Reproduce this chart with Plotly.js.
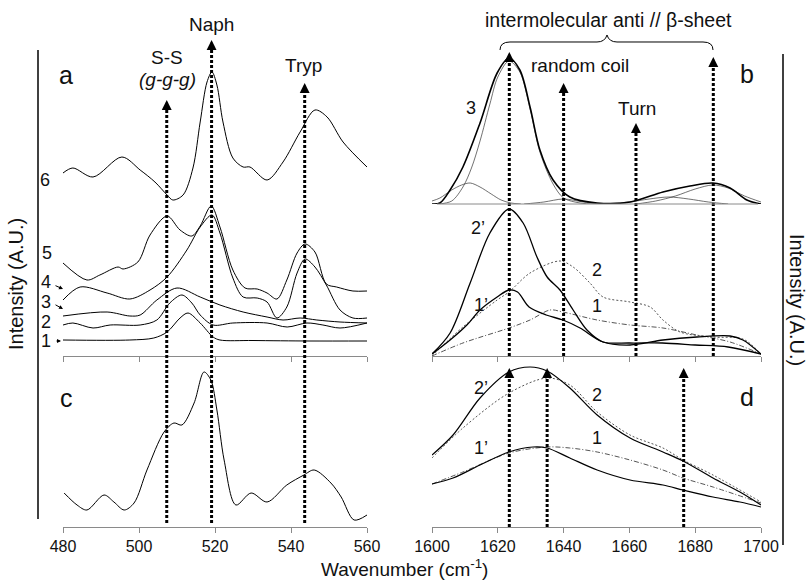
<!DOCTYPE html>
<html><head><meta charset="utf-8">
<script src="https://cdn.plot.ly/plotly-3.0.1.min.js"></script>
<style>html,body{margin:0;padding:0;background:#fff}#chart{width:807px;height:583px}</style>
</head><body><div id="chart"></div>
<script>
// ---------- Panel a (stacked spectra 1-6, A.U. incl. offset) ----------
const wn6 = [480,482.6,487.9,495.5,500.3,504.2,507.4,508.9,511.6,514.2,516.1,517.9,519.2,520.5,522.1,524.7,527.4,529.2,533.7,537.9,542.4,546.3,549.5,553.7,560];
const spec6 = [183,188,179,199,186,174,161,156,161,188,234,274,284,271,234,198,189,189,176,194,224,246,239,214,189];
const wn5 = [480,486.3,489.7,494.5,495.8,499.7,502.9,507.4,510.8,513.9,516.1,519.0,521.3,524.7,527.9,531.1,533.7,536.3,538.9,541.6,543.7,546.3,549.3,552.0,556.3,560];
const spec5 = [93,76,81,89,87,94,121,140,126,120,130,150,129,86,68,67,63,57,76,103,112,104,72,69,65,65];
const wn4 = [480,484.5,491.6,497.6,502.9,507.4,512.6,516.1,519.2,521.3,524.7,527.4,531.1,533.7,536.3,538.9,541.6,543.7,546.3,549.3,552.9,556.3,560];
const spec4 = [56,69,63,57,66,79,106,129,141,123,78,59,58,54,38,49,83,97,89,71,46,38,38];
const wn3 = [480,491.6,497.6,500.3,504.7,510.0,516.1,521.3,527.4,533.7,537.9,542.4,546.8,552.9,560];
const spec3 = [40,44,40,41,56,68,59,51,44,39,36,38,36,34,33];
const wn2 = [480,482.6,487.9,492.4,500.3,504.7,508.1,511.3,513.9,516.1,519.5,524.7,533.7,539.0,544.2,548.4,552.9,560];
const spec2 = [31,33,28,31,31,36,53,61,53,41,31,33,33,29,33,31,28,33];
const wn1 = [480,497.6,503.9,507.4,510.8,512.9,516.1,519.5,521.3,530,545,560];
const spec1 = [16,16,18,24,38,43,33,19,16,15.5,15,15];
// ---------- Panel c ----------
const wnC = [480.3,483.7,486.3,490.8,493.4,496.1,498.7,502.1,506.6,509.2,511.3,514.5,517.1,518.9,520.5,522.4,525.5,529.5,533.7,538.9,543.4,546.1,550.5,553.2,556.6,560];
const specC = [34,22,17,32,25,17,24,57,95,104,102,124,155,147,117,67,22,34,25,42,52,57,44,30,7,12];
// ---------- Panel b (band fit of spectrum 3) ----------
const wnB = [1600,1602.4,1605.5,1609.4,1614.6,1619.8,1623.4,1626.7,1629.8,1632.8,1636.8,1641.9,1650.2,1660.2,1670.2,1678.4,1685.4,1690.6,1695.7,1700];
const envB = [0,1,14,37,81,131,146,134,97,54,24,7,1,2,12,18,21,16,4,0];
const wnG1 = [1600,1602.4,1606,1609,1611.6,1614.6,1618,1621,1624,1627];
const g1 = [3,6,14,19,21,17,10,4,1,0];
const wnG2 = [1602,1606,1609.4,1612,1614.6,1617.6,1620,1623.4,1626.7,1629.8,1632.8,1636.8,1640,1645,1650];
const g2 = [0,3,17,36,63,100,127,143,132,95,52,20,6,1,0];
const wnG3 = [1628,1634,1640,1646,1652];
const g3 = [0,2,5,2,0];
const wnG4 = [1652,1660,1666,1672,1678,1684,1690];
const g4 = [0,2,5,7,5,2,0];
const wnG5 = [1662,1668,1674,1680,1685.4,1690,1695,1700];
const g5 = [0,3,8,15,19,16,8,2];
// ---------- Middle (spectra 1, 1', 2, 2') ----------
const wnM2p = [1600,1605.5,1611.6,1617.6,1623.4,1627.7,1631.9,1635,1638.9,1642.9,1647.1,1652,1660.2,1670.2,1680.5,1690.6,1694.5,1700];
const m2p = [2,23,73,123,147,133,99,79,66,46,26,14,11,16,19,20,16,2];
const wnM1p = [1600,1605.5,1610.6,1614.6,1619.8,1623.4,1626,1629.5,1634.7,1639.8,1645,1652,1660,1670,1680,1690,1700];
const m1p = [2,16,31,46,59,66,64,49,41,36,28,14,13,13,11,9,2];
const wnM2 = [1600,1609.4,1619.8,1623.4,1629.8,1638.9,1642.9,1648,1652,1660.2,1666.3,1670.2,1675.4,1685.4,1694.5,1700];
const m2 = [0,29,56,64,83,95,89,73,59,54,49,36,24,19,17,2];
const wnM1 = [1600,1609.4,1623.4,1629.8,1635.9,1639.8,1650.2,1660.2,1670.2,1680.5,1690.6,1700];
const m1 = [0,13,28,36,46,44,36,31,28,21,14,2];
// ---------- Panel d ----------
const wnD2p = [1600,1606.4,1614.6,1623.4,1629.8,1635,1641.9,1650.2,1660.2,1670.2,1676.3,1685.4,1693.6,1700];
const d2p = [72,92,129,155,160,156,139,112,89,75,66,49,35,22];
const wnD2 = [1600,1609.4,1623.4,1635,1641.9,1650.2,1660.2,1670.2,1676.3,1685.4,1700];
const d2 = [69,99,134,149,142,115,92,79,67,52,25];
const wnD1p = [1600,1606.4,1614.6,1623.4,1630.7,1635,1641.9,1650.2,1660.2,1670.2,1676.3,1685.4,1693.6,1700];
const d1p = [43,49,62,75,80,79,69,57,47,42,37,30,25,20];
const wnD1 = [1600,1609.4,1623.4,1635,1641.9,1650.2,1660.2,1670.2,1676.3,1685.4,1700];
const d1 = [43,55,74,80,79,75,67,57,49,40,24];
// ---------- band markers ----------
const bandsLeft = [507.3, 519.1, 543.6];
const bandsB = [1623.5, 1640, 1662, 1685.5];
const bandsD = [1623.5, 1635, 1676.5];
const ticksLeft = [480,500,520,540,560];
const ticksRight = [1600,1620,1640,1660,1680,1700];

// ---------- layout helpers ----------
const W=807,H=583;
const X=p=>p/W, Y=p=>1-p/H;
const FONT='Liberation Sans, Arial, sans-serif';

function tr(x,y,xa,ya,o){
  o=o||{};
  return {x:x,y:y,xaxis:xa,yaxis:ya,type:'scatter',mode:'lines',hoverinfo:'skip',showlegend:false,
    line:{color:o.color||'#000',width:o.width||1,dash:o.dash||'solid',shape:'spline',smoothing:0.9}};
}
const traces=[
  tr(wn6,spec6,'x','y'),tr(wn5,spec5,'x','y'),tr(wn4,spec4,'x','y'),
  tr(wn3,spec3,'x','y'),tr(wn2,spec2,'x','y'),tr(wn1,spec1,'x','y'),
  tr(wnC,specC,'x2','y2'),
  tr(wnG1,g1,'x3','y5',{color:'#333',width:0.7}),
  tr(wnG2,g2,'x3','y5',{color:'#333',width:0.7}),
  tr(wnG3,g3,'x3','y5',{color:'#333',width:0.7}),
  tr(wnG4,g4,'x3','y5',{color:'#333',width:0.7}),
  tr(wnG5,g5,'x3','y5',{color:'#333',width:0.7}),
  tr(wnB,envB,'x3','y5',{width:1.6}),
  tr(wnM2,m2,'x3','y3',{color:'#555',width:1,dash:'2px,2px'}),
  tr(wnM1,m1,'x3','y3',{color:'#555',width:1,dash:'5px,2px,1px,2px'}),
  tr(wnM2p,m2p,'x3','y3',{width:1.3}),
  tr(wnM1p,m1p,'x3','y3',{width:1.3}),
  tr(wnD2,d2,'x4','y4',{color:'#555',width:1,dash:'2px,2px'}),
  tr(wnD1,d1,'x4','y4',{color:'#555',width:1,dash:'5px,2px,1px,2px'}),
  tr(wnD2p,d2p,'x4','y4',{width:1.2}),
  tr(wnD1p,d1p,'x4','y4',{width:1.2})
];

const AX='#8a8a8a';
function xax(dom,range,anchor,labels,tv){
  return {domain:dom,range:range,anchor:anchor,showline:true,linecolor:AX,linewidth:1,
    ticks:'outside',ticklen:5,tickcolor:AX,tickwidth:1,tickmode:'array',tickvals:tv,
    showticklabels:labels,tickfont:{family:FONT,size:16,color:'#111'},showgrid:false,zeroline:false,fixedrange:true};
}
function yax(dom,range,anchor){
  return {domain:dom,range:range,anchor:anchor,visible:false,showgrid:false,zeroline:false,fixedrange:true};
}
const LD=[X(63),X(367)], RD=[X(432),X(761)];

const shapes=[];
const annotations=[];
function band(xref,b,topPx,botPx){
  shapes.push({type:'line',xref:xref,yref:'paper',x0:b,x1:b,y0:Y(botPx),y1:Y(topPx+5),
    line:{color:'#000',width:3,dash:'3px,2px'}});
  annotations.push({xref:xref,yref:'paper',x:b,y:Y(topPx),ax:0,ay:11,showarrow:true,
    arrowhead:2,arrowsize:1.1,arrowwidth:1.8,arrowcolor:'#000',text:'',standoff:0});
}
const topsLeft=[100,40,83];
bandsLeft.forEach((b,i)=>band('x',b,topsLeft[i],523));
const topsB=[52,83,123,57];
bandsB.forEach((b,i)=>band('x3',b,topsB[i],356));
bandsD.forEach(b=>band('x4',b,368,527));

// side lines and b baseline
shapes.push({type:'line',xref:'paper',yref:'paper',x0:X(38),x1:X(38),y0:Y(519),y1:Y(50),line:{color:'#000',width:1.5}});
shapes.push({type:'line',xref:'paper',yref:'paper',x0:X(783),x1:X(783),y0:Y(545),y1:Y(54),line:{color:'#000',width:1.5}});
shapes.push({type:'line',xref:'paper',yref:'paper',x0:X(437),x1:X(758),y0:Y(204),y1:Y(204),line:{color:AX,width:1}});
// brace
function P(x,y){return X(x).toFixed(5)+','+Y(y).toFixed(5);}
const brace='M'+P(500,50)+' Q'+P(500,42)+' '+P(510,42)+' L'+P(597,42)+' Q'+P(605,42)+' '+P(607,35)+
  ' Q'+P(609,42)+' '+P(617,42)+' L'+P(703,42)+' Q'+P(713,42)+' '+P(713,50);
shapes.push({type:'path',xref:'paper',yref:'paper',path:brace,line:{color:'#000',width:1}});

function txt(t,x,y,size,extra){
  annotations.push(Object.assign({xref:'paper',yref:'paper',x:X(x),y:Y(y),text:t,showarrow:false,
    xanchor:'center',yanchor:'middle',font:{family:FONT,size:size,color:'#111'}},extra||{}));
}
function arr(tipx,tipy,ax,ay){
  annotations.push({xref:'paper',yref:'paper',x:X(tipx),y:Y(tipy),ax:ax,ay:ay,showarrow:true,
    arrowhead:2,arrowsize:0.8,arrowwidth:1,arrowcolor:'#000',text:'',standoff:0});
}
txt('Naph',211,24,19);
txt('S-S',167,57,19);
txt('<i>(g-g-g)</i>',167,80,19);
txt('Tryp',303,66,19);
txt('a',66,75,25);
txt('c',66,398,25);
txt('6',45,180,18);
txt('5',47,253,18);
txt('4',46,282,18);
txt('3',46,302,18);
txt('2',46,322,18);
txt('1',46,341,18);
arr(63,289,-9,-4);
arr(63,309,-9,-5);
arr(61,341,-6,0);
txt('intermolecular anti // β-sheet',608,20,19.5);
txt('random coil',580,65,19);
txt('Turn',637,108,19);
txt('b',747,74,25);
txt('d',747,397,25);
txt('3',471,108,18);
txt('2’',478,228,18);
txt('2',597,270,18);
txt('1’',481,305,18);
txt('1',597,306,18);
txt('2’',481,388,18);
txt('2',597,395,18);
txt('1’',481,448,18);
txt('1',597,438,18);
txt('Intensity (A.U.)',16,284,20,{textangle:-90});
txt('Intensity (A.U.)',797,300,20,{textangle:90});
txt('Wavenumber (cm<sup>-1</sup>)',404,568,19);

const layout={
  width:W,height:H,margin:{l:0,r:0,t:0,b:0},paper_bgcolor:'#fff',plot_bgcolor:'rgba(0,0,0,0)',
  showlegend:false,font:{family:FONT,color:'#111'},
  xaxis:xax(LD,[480,560],'y',false,ticksLeft),
  yaxis:yax([Y(356),Y(40)],[0,316],'x'),
  xaxis2:xax(LD,[480,560],'y2',true,ticksLeft),
  yaxis2:yax([Y(527),Y(367)],[0,160],'x2'),
  xaxis3:xax(RD,[1600,1700],'y3',false,ticksRight),
  yaxis3:yax([Y(356),Y(204)],[0,152],'x3'),
  xaxis4:xax(RD,[1600,1700],'y4',true,ticksRight),
  yaxis4:yax([Y(527),Y(360)],[0,167],'x4'),
  yaxis5:yax([Y(204),Y(40)],[0,164],'x3'),
  shapes:shapes,annotations:annotations
};
Plotly.newPlot('chart',traces,layout,{staticPlot:true,displayModeBar:false});
</script></body></html>
